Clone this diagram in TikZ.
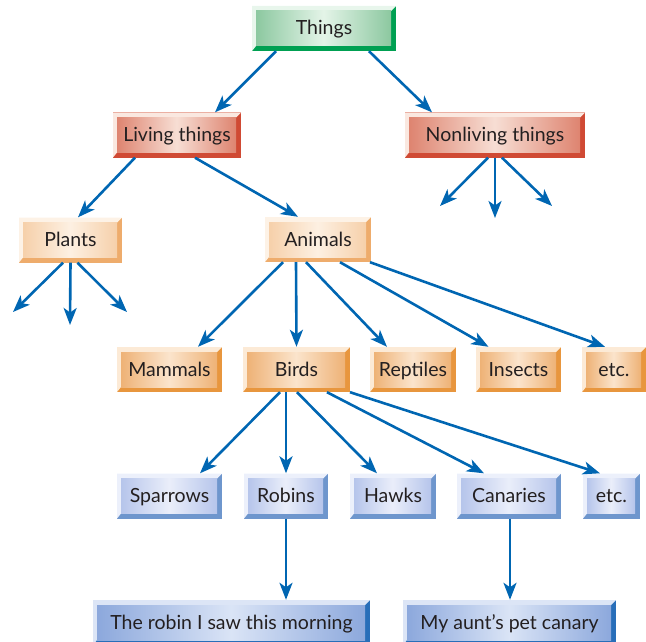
\documentclass[tikz,border=0pt]{standalone}
\usepackage{fontspec}
\setmainfont{Lato}
\usetikzlibrary{arrows.meta}

% palette
\definecolor{arrowblue}{RGB}{0,102,178}
\definecolor{txtgray}{RGB}{35,31,32}
\definecolor{grnface}{RGB}{140,200,160}
\definecolor{grnlight}{RGB}{228,244,232}
\definecolor{grnbevel}{RGB}{232,246,236}
\definecolor{grnedge}{RGB}{0,160,82}
\definecolor{redface}{RGB}{222,132,112}
\definecolor{redlight}{RGB}{247,222,212}
\definecolor{redbevel}{RGB}{250,232,224}
\definecolor{rededge}{RGB}{208,74,52}
\definecolor{pchface}{RGB}{246,208,170}
\definecolor{pchlight}{RGB}{253,240,226}
\definecolor{pchbevel}{RGB}{253,242,230}
\definecolor{pchedge}{RGB}{238,172,108}
\definecolor{orgface}{RGB}{238,178,118}
\definecolor{orglight}{RGB}{251,228,204}
\definecolor{orgbevel}{RGB}{252,234,214}
\definecolor{orgedge}{RGB}{232,150,62}
\definecolor{lbface}{RGB}{182,197,235}
\definecolor{lblight}{RGB}{234,238,250}
\definecolor{lbbevel}{RGB}{236,240,251}
\definecolor{lbedge}{RGB}{110,150,205}
\definecolor{mbface}{RGB}{140,168,220}
\definecolor{mblight}{RGB}{218,228,246}
\definecolor{mbbevel}{RGB}{220,229,246}
\definecolor{mbedge}{RGB}{40,110,185}

\tikzset{
  % raised box: face shade (dark, light), light top/left bevel, dark right/bottom bevel
  bevelbox/.style n args={4}{
    rectangle, inner sep=0pt, minimum height=45pt, fill=#4, text=txtgray,
    font=\fontsize{19.5}{22}\selectfont, text height=15pt, text depth=2pt,
    path picture={
      \coordinate (bsw) at (path picture bounding box.south west);
      \coordinate (bne) at (path picture bounding box.north east);
      \fill[#3] (bsw) |- (bne) -- ([shift={(-5pt,-5pt)}]bne)
        -| ([shift={(4pt,5pt)}]bsw) -- cycle;
      \shade[left color=#1, right color=#1, middle color=#2]
        ([shift={(4pt,5pt)}]bsw) rectangle ([shift={(-5pt,-5pt)}]bne);
    }
  },
  greenbox/.style={bevelbox={grnface}{grnlight}{grnbevel}{grnedge}},
  redbox/.style={bevelbox={redface}{redlight}{redbevel}{rededge}},
  peachbox/.style={bevelbox={pchface}{pchlight}{pchbevel}{pchedge}},
  orangebox/.style={bevelbox={orgface}{orglight}{orgbevel}{orgedge}},
  paleblue/.style={bevelbox={lbface}{lblight}{lbbevel}{lbedge}},
  midblue/.style={bevelbox={mbface}{mblight}{mbbevel}{mbedge}},
  link/.style={draw=arrowblue, line width=2.6pt,
    -{Stealth[length=17pt,width=13pt,inset=4.5pt]}},
}

\begin{document}
\begin{tikzpicture}[x=1pt,y=-1pt]
\useasboundingbox (0,0) rectangle (646,642);

% boxes
\node[greenbox,  minimum width=144pt] (things)    at (324,28.5)  {Things};
\node[redbox,    minimum width=128pt] (living)    at (177,135)   {Living things};
\node[redbox,    minimum width=180pt] (nonliving) at (495,135)   {Nonliving things};
\node[peachbox,  minimum width=103pt] (plants)    at (70.5,240)  {Plants};
\node[peachbox,  minimum width=106pt] (animals)   at (318,239.5) {Animals};
\node[orangebox, minimum width=105pt] (mammals)   at (169.5,369.5) {Mammals};
\node[orangebox, minimum width=107pt] (birds)     at (296.5,369.5) {Birds};
\node[orangebox, minimum width=86pt]  (reptiles)  at (413,369.5) {Reptiles};
\node[orangebox, minimum width=85pt]  (insects)   at (518.5,369.5) {Insects};
\node[orangebox, minimum width=64pt]  (etcA)      at (614,369.5) {etc.};
\node[paleblue,  minimum width=105pt] (sparrows)  at (169.5,496) {Sparrows};
\node[paleblue,  minimum width=84pt]  (robins)    at (286,496)   {Robins};
\node[paleblue,  minimum width=86pt]  (hawks)     at (393,496)   {Hawks};
\node[paleblue,  minimum width=104pt] (canaries)  at (509,496)   {Canaries};
\node[paleblue,  minimum width=57pt]  (etcB)      at (611.5,496) {etc.};
\node[midblue,   minimum width=277pt] (robin)     at (231.5,622.5) {The robin I saw this morning};
\node[midblue,   minimum width=213pt] (canary)    at (509.5,622.5) {My aunt’s pet canary};

% open-ended branches
\coordinate (nl1) at (440,206);
\coordinate (nl2) at (495,218);
\coordinate (nl3) at (552,206);
\coordinate (pl1) at (13,312);
\coordinate (pl2) at (70,325);
\coordinate (pl3) at (127,312);

% connectors
\draw[link] ([xshift=-48pt]things.south) -- ([xshift=38pt]living.north);
\draw[link] ([xshift=45pt]things.south) -- ([xshift=-63pt]nonliving.north);

\draw[link] ([xshift=-7pt]nonliving.south) -- (nl1);
\draw[link] (nonliving.south) -- (nl2);
\draw[link] ([xshift=7pt]nonliving.south) -- (nl3);

\draw[link] ([xshift=-42pt]living.south) -- ([xshift=7.5pt]plants.north);
\draw[link] ([xshift=18pt]living.south) -- ([xshift=-20pt]animals.north);

\draw[link] ([xshift=-7.5pt]plants.south) -- (pl1);
\draw[link] (plants.south) -- (pl2);
\draw[link] ([xshift=7pt]plants.south) -- (pl3);

\draw[link] ([xshift=-35pt]animals.south) -- ([xshift=28.5pt]mammals.north);
\draw[link] ([xshift=-22pt]animals.south) -- ([xshift=0pt]birds.north);
\draw[link] ([xshift=-12pt]animals.south) -- ([xshift=-26pt]reptiles.north);
\draw[link] ([xshift=22pt]animals.south) -- ([xshift=-30pt]insects.north);
\draw[link] ([xshift=52pt]animals.south) -- ([xshift=-9pt]etcA.north);

\draw[link] ([xshift=-16.5pt]birds.south) -- ([xshift=30.5pt]sparrows.north);
\draw[link] ([xshift=-10.5pt]birds.south) -- (robins.north);
\draw[link] ([xshift=0.5pt]birds.south) -- ([xshift=-16pt]hawks.north);
\draw[link] ([xshift=30.5pt]birds.south) -- ([xshift=-25pt]canaries.north);
\draw[link] ([xshift=53.5pt]birds.south) -- ([xshift=-11.5pt]etcB.north);

\draw[link] (robins.south) -- ([xshift=54.5pt]robin.north);
\draw[link] ([xshift=1pt]canaries.south) -- ([xshift=0.5pt]canary.north);
\end{tikzpicture}
\end{document}
